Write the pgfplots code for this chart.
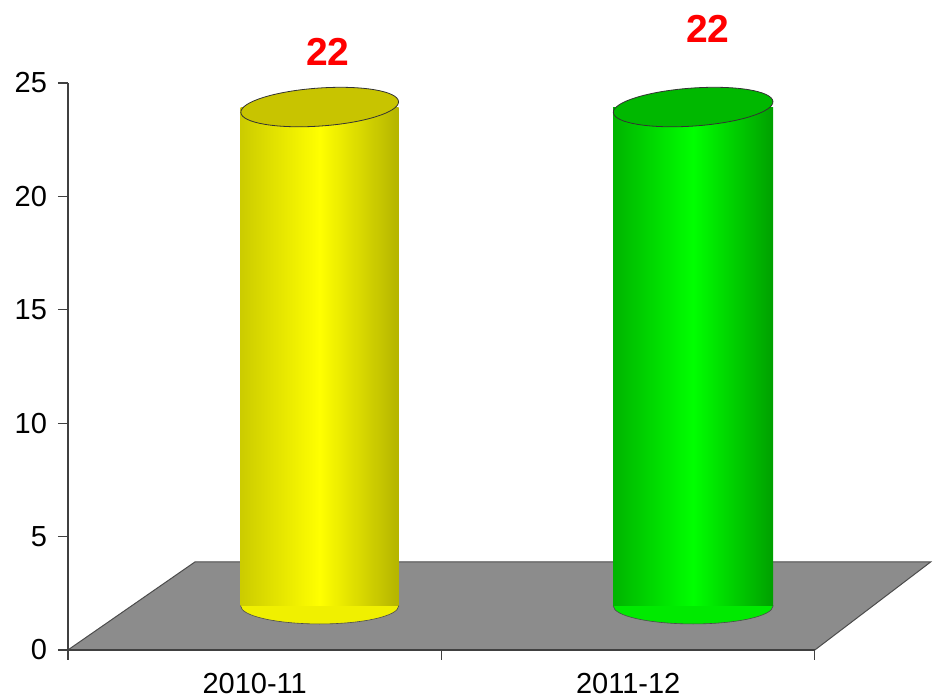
\documentclass[border=0pt]{standalone}
\usepackage{fontspec}
\setmainfont{Liberation Sans}
\usepackage{pgfplots}
\pgfplotsset{compat=1.18}
\definecolor{ylL}{HTML}{CCCC00}
\definecolor{ylM}{HTML}{FFFF00}
\definecolor{ylR}{HTML}{B4B400}
\definecolor{ylB}{HTML}{F0F000}
\definecolor{ylTop}{HTML}{C8C400}
\definecolor{grL}{HTML}{00B400}
\definecolor{grM}{HTML}{00FF00}
\definecolor{grR}{HTML}{00A000}
\definecolor{grB}{HTML}{00EA00}
\definecolor{grTop}{HTML}{00B800}
\definecolor{floorc}{HTML}{8C8C8C}
\pgfplotsset{
  layers/mylayers/.define layer set={axis background,axis grid,main,bodies,tops,axis ticks,axis lines,axis tick labels,axis descriptions,axis foreground}{},
}
\begin{document}
\begin{tikzpicture}
\begin{axis}[
  set layers=mylayers,
  x=186.75pt, y=11.34pt,
  xmin=0, xmax=2, ymin=0, ymax=25,
  clip=false,
  axis lines*=left,
  axis line style={black!75, line width=0.6pt},
  tick align=outside,
  major tick length=5pt,
  tick style={black!75, line width=0.6pt},
  ytick={0,5,10,15,20,25},
  xtick={0,1,2},
  xticklabels={},
  extra x ticks={0.5,1.5},
  extra x tick labels={2010-11,2011-12},
  extra x tick style={major tick length=0pt, tick label style={yshift=-8pt}},
  tick label style={font=\fontsize{14.5}{17}\selectfont},
  /pgf/number format/assume math mode=true,
  yticklabel style={xshift=-2pt},
]
% floor
\addplot[on layer=axis background, fill=floorc, draw=black!70, line width=0.5pt] coordinates {(0,0) (2,0) (2.31,3.88) (0.34,3.88)} -- cycle;
% bottom ellipses
\addplot[only marks, mark=*, mark size=9pt,
  mark options={xscale=4.39, draw=black!70, line width=0.3pt, fill=ylB}]
  coordinates {(0.674,1.94)};
\addplot[only marks, mark=*, mark size=9pt,
  mark options={xscale=4.44, draw=black!70, line width=0.3pt, fill=grB}]
  coordinates {(1.674,1.94)};
% cylinder bodies (stacked on floor depth offset)
\addplot[on layer=bodies, ybar stacked, bar width=79pt, draw=none, fill=none] coordinates {(0.674,1.94) (1.674,1.94)};
\addplot[on layer=bodies, ybar stacked, bar width=79pt, draw=none, left color=ylL, right color=ylR, middle color=ylM] coordinates {(0.674,22) (1.674,0)};
\addplot[on layer=bodies, ybar stacked, bar width=80pt, draw=none, left color=grL, right color=grR, middle color=grM] coordinates {(0.674,0) (1.674,22)};
% top ellipses
\addplot[on layer=tops, mark layer=like plot, only marks, mark=*, mark size=9.5pt,
  mark options={rotate=4, xscale=4.16, draw=black!80, line width=0.4pt, fill=ylTop}]
  coordinates {(0.674,23.94)};
\addplot[on layer=tops, mark layer=like plot, only marks, mark=*, mark size=9.5pt,
  mark options={rotate=4, xscale=4.21, draw=black!80, line width=0.4pt, fill=grTop}]
  coordinates {(1.674,23.94)};
% value labels
\node[text=red, font=\fontsize{19.5}{22}\selectfont\bfseries] at (axis cs:0.696,26.37) {22};
\node[text=red, font=\fontsize{19.5}{22}\selectfont\bfseries] at (axis cs:1.713,27.4) {22};
\coordinate (BL) at (axis cs:-0.182,-2.2);
\coordinate (TR) at (axis cs:2.327,28.66);
\end{axis}
\pgfresetboundingbox
\path[use as bounding box] (BL) rectangle (TR);
\end{tikzpicture}
\end{document}
